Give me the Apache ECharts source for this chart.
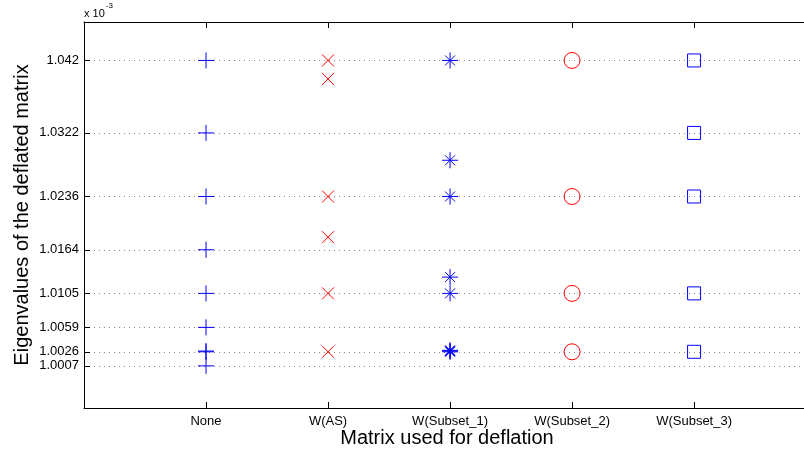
<!DOCTYPE html>
<html>
<head>
<meta charset="utf-8">
<script src="https://cdn.jsdelivr.net/npm/echarts@6/dist/echarts.min.js"></script>
<style>
  html, body { margin: 0; padding: 0; background: #fff; overflow: hidden; width: 804px; height: 452px; }
  /* the plot box runs past the right edge of the page */
  #chart { width: 840px; height: 452px; }
</style>
</head>
<body>
<div id="chart"></div>
<script>
// Deflation matrices compared along the x axis
const categories = ['None', 'W(AS)', 'W(Subset_1)', 'W(Subset_2)', 'W(Subset_3)'];

// Eigenvalues (in units of 1e-3) for each deflation choice
const valsNone    = [1.042, 1.0322, 1.0236, 1.0164, 1.0105, 1.0059, 1.0027, 1.0026, 1.0007];
const valsAS      = [1.042, 1.0395, 1.0236, 1.0181, 1.0105, 1.0026];
const valsSubset1 = [1.042, 1.0285, 1.0236, 1.0127, 1.0105, 1.0028, 1.0027, 1.0026];
const valsSubset2 = [1.042, 1.0236, 1.0105, 1.0026];
const valsSubset3 = [1.042, 1.0322, 1.0236, 1.0105, 1.0026];

// Y tick positions / labels
const yTicks = [1.0007, 1.0026, 1.0059, 1.0105, 1.0164, 1.0236, 1.0322, 1.042];

const BLUE = '#0000ff';
const RED = '#ff0000';

// Line-drawn marker shapes
const PLUS = 'path://M0,8L16,8M8,0L8,16';
const CROSS = 'path://M0,0L12,12M0,12L12,0';
const STAR = 'path://M0,8L16,8M8,0L8,16M3,3L13,13M3,13L13,3';

function pts(vals, idx) {
  return vals.map(v => [idx + 1, v]);
}

function series(name, vals, idx, symbol, size, color) {
  return {
    name: name,
    type: 'scatter',
    data: pts(vals, idx),
    symbol: symbol,
    symbolSize: size,
    itemStyle: { color: 'transparent', borderColor: color, borderWidth: 1, opacity: 1 },
    emphasis: { disabled: true },
    silent: true,
    z: 5
  };
}

const chart = echarts.init(document.getElementById('chart'), null, { renderer: 'canvas' });

const FONT = 'Liberation Sans, Arial, sans-serif';
const axisFont = { fontFamily: FONT, fontSize: 13, color: '#000' };
const frameLine = { show: true, onZero: false, lineStyle: { color: '#000', width: 1 } };

// x extent: the box is cut off by the right edge of the page
const X_MAX = 5.95;

chart.setOption({
  animation: false,
  grid: {
    left: 84, right: 30, top: 22, bottom: 44,
    containLabel: false,
    outerBoundsMode: 'none',
    show: false
  },
  xAxis: [
    {
      type: 'value',
      position: 'bottom',
      min: 0, max: X_MAX, interval: 1,
      axisLine: frameLine,
      axisTick: { show: true, inside: true, length: 6, lineStyle: { color: '#000' } },
      axisLabel: Object.assign({}, axisFont, {
        margin: 7,
        showMaxLabel: false,
        formatter: function (v) { return categories[v - 1] || ''; }
      }),
      splitLine: { show: false },
      name: 'Matrix used for deflation',
      nameLocation: 'middle',
      nameGap: 20,
      nameMoveOverlap: false,
      nameTextStyle: { fontFamily: FONT, fontSize: 20, color: '#000' }
    },
    {
      type: 'value',
      position: 'top',
      min: 0, max: X_MAX, interval: 1,
      axisLine: frameLine,
      axisTick: { show: true, inside: true, length: 6, lineStyle: { color: '#000' } },
      axisLabel: { show: false },
      splitLine: { show: false }
    }
  ],
  yAxis: {
    type: 'value',
    min: 0.995, max: 1.0472,
    axisLine: frameLine,
    axisTick: { show: true, inside: true, length: 6, customValues: yTicks, lineStyle: { color: '#000' } },
    axisLabel: Object.assign({}, axisFont, {
      margin: 5,
      customValues: yTicks,
      formatter: function (v) { return String(+v.toFixed(4)); }
    }),
    splitLine: { show: true, lineStyle: { color: '#888', type: [1, 4], width: 1 } },
    name: 'Eigenvalues of the deflated matrix',
    nameLocation: 'middle',
    nameGap: 52,
    nameMoveOverlap: false,
    nameTextStyle: { fontFamily: FONT, fontSize: 20, color: '#000' }
  },
  graphic: [{
    type: 'text',
    left: 84, top: 2,
    style: {
      text: '{b|x 10}{s|-3}',
      rich: {
        b: { fontFamily: FONT, fontSize: 11, fill: '#000', verticalAlign: 'bottom', padding: [6, 0, 0, 0] },
        s: { fontFamily: FONT, fontSize: 8, fill: '#000', verticalAlign: 'top', padding: [0, 0, 0, 1] }
      }
    }
  }],
  series: [
    series('None', valsNone, 0, PLUS, 16, BLUE),
    series('W(AS)', valsAS, 1, CROSS, 12, RED),
    series('W(Subset_1)', valsSubset1, 2, STAR, 16, BLUE),
    series('W(Subset_2)', valsSubset2, 3, 'circle', 16, RED),
    series('W(Subset_3)', valsSubset3, 4, 'rect', 13, BLUE)
  ]
});
</script>
</body>
</html>
